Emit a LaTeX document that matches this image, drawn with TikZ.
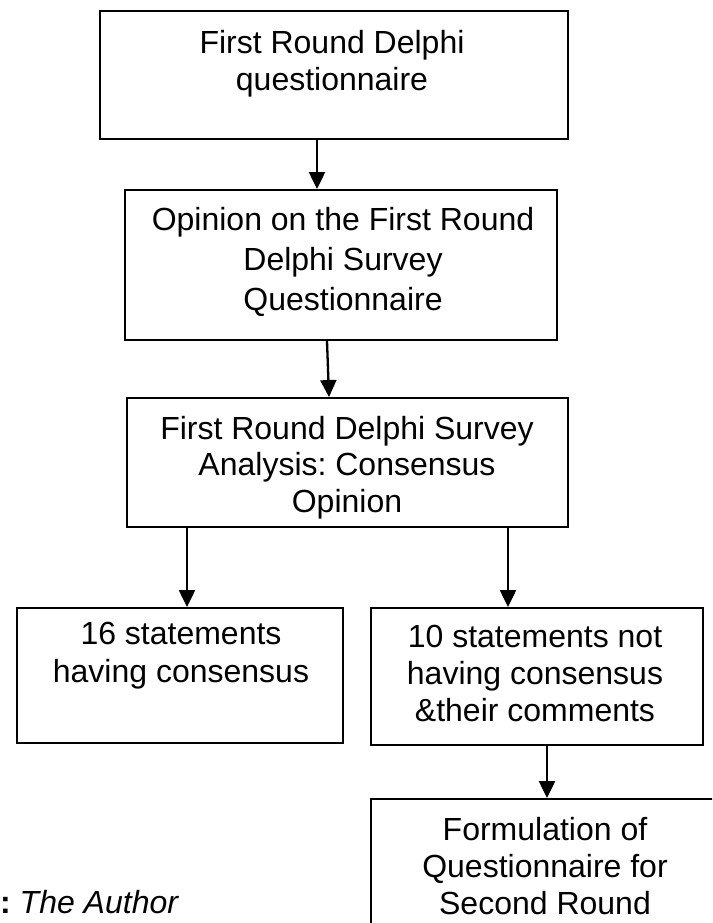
\documentclass[tikz,border=0pt]{standalone}
\usepackage{fontspec}
\setmainfont{Liberation Sans}
\usetikzlibrary{arrows.meta}
\frenchspacing
\begin{document}
\begin{tikzpicture}[x=1pt,y=-1pt,
  box/.style={draw, line width=1.9pt, inner sep=0pt, rectangle},
  lbl/.style={align=center, inner sep=0pt, anchor=north,
              font=\fontsize{32pt}{37pt}\selectfont},
  arr/.style={line width=2.3pt, -{Triangle[width=16pt,length=17pt]}}]
\useasboundingbox (0,0) rectangle (712,923);
\clip (0,0) rectangle (712,923);

% boxes
\node[box, minimum width=468pt, minimum height=128pt] (b1) at (334,75) {};
\node[box, minimum width=432pt, minimum height=150pt] (b2) at (341,265) {};
\node[box, minimum width=441pt, minimum height=129pt] (b3) at (347.5,462.5) {};
\node[box, minimum width=326pt, minimum height=135pt] (b4) at (180,675.5) {};
\node[box, minimum width=332pt, minimum height=137pt] (b5) at (537,676.5) {};
\node[box, minimum width=349pt, minimum height=136pt] (b6) at (545.5,867) {};

% box texts
\node[lbl] (t1) at (332,30) {First Round Delphi\\questionnaire};
\node[lbl, font=\fontsize{32pt}{40pt}\selectfont] (t2) at (343,207)
  {Opinion on the First Round\\Delphi Survey\\Questionnaire};
\node[lbl, font=\fontsize{32pt}{36.5pt}\selectfont] (t3) at (347,416)
  {First Round Delphi Survey\\Analysis: Consensus\\Opinion};
\node[lbl, font=\fontsize{32pt}{38pt}\selectfont] (t4) at (181,622)
  {16 statements\\having consensus};
\node[lbl] (t5) at (535,625) {10 statements not\\having consensus\\\&their comments};
\node[lbl] (t6) at (545,817) {Formulation of\\Questionnaire for\\Second Round};

% connectors
\draw[arr] ([xshift=-17pt]b1.south) -- ([xshift=-24pt]b2.north);
\draw[arr] ([xshift=-14pt]b2.south) -- ([xshift=-18.5pt]b3.north);
\draw[arr] ([xshift=-160.5pt]b3.south) -- ([xshift=7pt]b4.north);
\draw[arr] ([xshift=160.5pt]b3.south) -- ([xshift=-29pt]b5.north);
\draw[arr] ([xshift=10pt]b5.south) -- ([xshift=1.5pt]b6.north);

% source line
\node[anchor=base west, inner sep=0pt, font=\fontsize{32pt}{37pt}\selectfont]
  (src) at (0,913) {\textbf{:} \textit{The Author}};
\end{tikzpicture}
\end{document}
